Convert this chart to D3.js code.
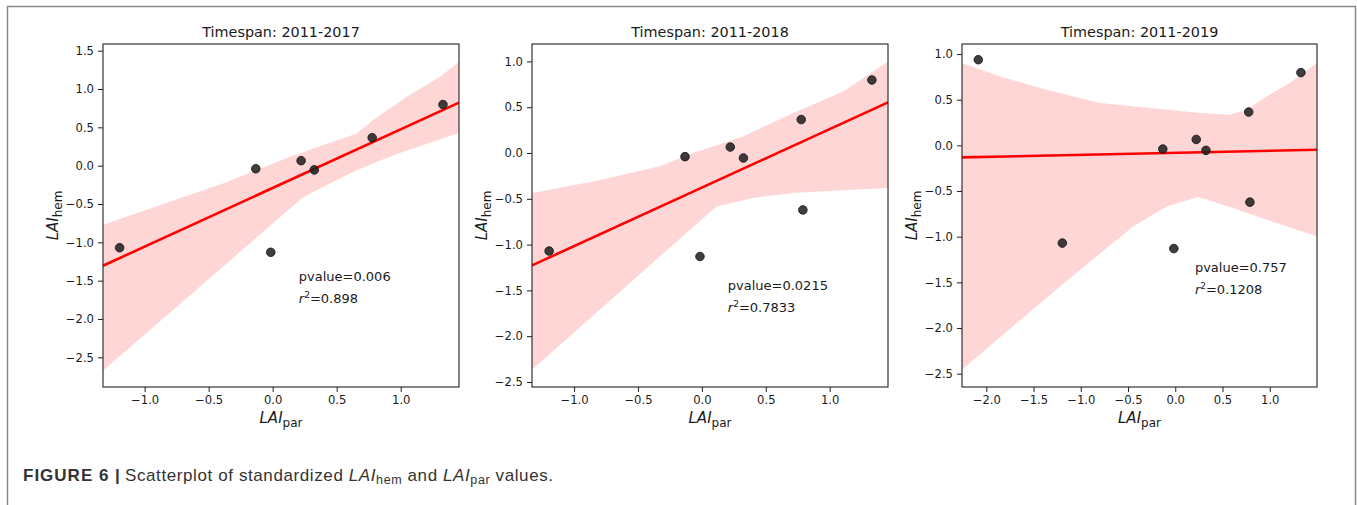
<!DOCTYPE html>
<html>
<head>
<meta charset="utf-8">
<script src="https://cdn.jsdelivr.net/npm/d3@7/dist/d3.min.js"></script>
<style>
body { margin: 0; background: #fff; }
svg text { font-family: "DejaVu Sans", sans-serif; fill: #1a1a1a; }
.cap text { font-family: "Liberation Sans", Arial, sans-serif; fill: #333; }
</style>
</head>
<body>
<script>
// panel titles and stats text
var titles = ["Timespan: 2011-2017", "Timespan: 2011-2018", "Timespan: 2011-2019"];
var pvalues = ["0.006", "0.0215", "0.757"];
var r2values = ["0.898", "0.7833", "0.1208"];

// standardized LAI values [LAI_par, LAI_hem]
var pts2017 = [[-1.195, -1.07], [-0.132, -0.04], [-0.015, -1.13], [0.222, 0.065], [0.325, -0.055], [0.777, 0.365], [1.33, 0.797]];
var pts2018 = [[-1.195, -1.07], [-0.132, -0.04], [-0.015, -1.13], [0.222, 0.065], [0.325, -0.055], [0.777, 0.365], [0.79, -0.622], [1.33, 0.797]];
var pts2019 = [[-2.085, 0.938], [-1.195, -1.07], [-0.132, -0.04], [-0.015, -1.13], [0.222, 0.065], [0.325, -0.055], [0.777, 0.365], [0.79, -0.622], [1.33, 0.797]];

// fitted regression line, read at the axis edges
var fit2017 = [[-1.325, -1.305], [1.455, 0.822]];
var fit2018 = [[-1.329, -1.227], [1.456, 0.552]];
var fit2019 = [[-2.257, -0.132], [1.5, -0.048]];

// confidence band edges (bootstrap)
var hi2017 = [[-1.325, -0.77], [-0.384, -0.23], [-0.123, -0.056], [0.137, 0.117], [0.396, 0.27], [0.657, 0.42], [0.784, 0.596], [1.047, 0.9], [1.307, 1.16], [1.455, 1.357]];
var lo2017 = [[-1.325, -2.675], [0.228, -0.426], [0.345, -0.317], [0.63, -0.079], [0.813, 0.05], [1.0, 0.17], [1.176, 0.27], [1.455, 0.43]];
var hi2018 = [[-1.329, -0.437], [-0.851, -0.31], [-0.329, -0.146], [-0.069, 0.0], [0.322, 0.181], [0.714, 0.437], [1.105, 0.672], [1.456, 1.0]];
var lo2018 = [[-1.329, -2.366], [0.114, -0.583], [0.401, -0.491], [0.714, -0.437], [1.105, -0.408], [1.456, -0.382]];
var hi2019 = [[-2.257, 0.901], [-1.855, 0.755], [-1.361, 0.609], [-0.798, 0.463], [-0.269, 0.409], [0.26, 0.354], [0.577, 0.335], [0.754, 0.39], [0.965, 0.536], [1.212, 0.682], [1.5, 0.901]];
var lo2019 = [[-2.257, -2.457], [-1.221, -1.545], [-0.445, -0.888], [-0.092, -0.669], [0.242, -0.566], [0.612, -0.686], [0.965, -0.814], [1.5, -0.997]];

// tick labels
var xTicksA = [-1.0, -0.5, 0.0, 0.5, 1.0];
var xTicksB = [-2.0, -1.5, -1.0, -0.5, 0.0, 0.5, 1.0];
var yTicksA = [1.5, 1.0, 0.5, 0.0, -0.5, -1.0, -1.5, -2.0, -2.5];
var yTicksB = [1.0, 0.5, 0.0, -0.5, -1.0, -1.5, -2.0, -2.5];

var W = 1357, H = 505;
var svg = d3.select("body").append("svg")
	.attr("width", W)
	.attr("height", H);

// figure frame (left, top, right)
svg.append("path")
	.attr("d", "M 7.5 505 L 7.5 6.5 L 1355.5 6.5 L 1355.5 505")
	.attr("fill", "none")
	.attr("stroke", "#8a8a8a")
	.attr("stroke-width", 1.5);

var panels = [
	{left: 103, right: 459, xdom: [-1.325, 1.455], ydom: [-2.887, 1.587], xt: xTicksA, yt: yTicksA,
		pts: pts2017, fit: fit2017, hi: hi2017, lo: lo2017, tx: 0.55, ty: 0.69},
	{left: 532, right: 888, xdom: [-1.329, 1.456], ydom: [-2.555, 1.19], xt: xTicksA, yt: yTicksB,
		pts: pts2018, fit: fit2018, hi: hi2018, lo: lo2018, tx: 0.55, ty: 0.716},
	{left: 962, right: 1317, xdom: [-2.257, 1.5], ydom: [-2.646, 1.11], xt: xTicksB, yt: yTicksB,
		pts: pts2019, fit: fit2019, hi: hi2019, lo: lo2019, tx: 0.656, ty: 0.664}
];
var plotTop = 44, plotBottom = 387;
var fmt = d3.format(".1f");

panels.forEach(function (p, i) {
	var x = d3.scaleLinear().domain(p.xdom).range([p.left, p.right]);
	var y = d3.scaleLinear().domain(p.ydom).range([plotBottom, plotTop]);
	var g = svg.append("g");

	g.append("defs").append("clipPath")
		.attr("id", "clip" + i)
		.append("rect")
		.attr("x", p.left).attr("y", plotTop)
		.attr("width", p.right - p.left).attr("height", plotBottom - plotTop);

	var line = d3.line().x(function (d) { return x(d[0]); }).y(function (d) { return y(d[1]); });
	var plot = g.append("g").attr("clip-path", "url(#clip" + i + ")");

	// band: upper edge forward, lower edge back
	plot.append("path")
		.attr("d", line(p.hi.concat(p.lo.slice().reverse())) + "Z")
		.attr("fill", "#ff0000")
		.attr("fill-opacity", 0.16);

	plot.append("path")
		.attr("d", line(p.fit))
		.attr("fill", "none")
		.attr("stroke", "#ff0000")
		.attr("stroke-width", 2.6);

	plot.selectAll("circle")
		.data(p.pts)
		.enter().append("circle")
		.attr("cx", function (d) { return x(d[0]); })
		.attr("cy", function (d) { return y(d[1]); })
		.attr("r", 4.3)
		.attr("fill", "#1c1c1c")
		.attr("fill-opacity", 0.85)
		.attr("stroke", "#111")
		.attr("stroke-width", 0.8);

	// axes
	var xa = g.append("g")
		.attr("transform", "translate(0," + plotBottom + ")")
		.call(d3.axisBottom(x).tickValues(p.xt).tickFormat(fmt).tickSize(5).tickPadding(4));
	var ya = g.append("g")
		.attr("transform", "translate(" + p.left + ",0)")
		.call(d3.axisLeft(y).tickValues(p.yt).tickFormat(fmt).tickSize(5).tickPadding(4));
	[xa, ya].forEach(function (a) {
		a.select(".domain").remove();
		a.selectAll("text").attr("font-size", "11.6px").attr("font-family", "DejaVu Sans").attr("fill", "#1a1a1a");
		a.selectAll("line").attr("stroke", "#222");
	});

	g.append("rect")
		.attr("x", p.left).attr("y", plotTop)
		.attr("width", p.right - p.left).attr("height", plotBottom - plotTop)
		.attr("fill", "none")
		.attr("stroke", "#222")
		.attr("stroke-width", 1.1);

	var cx = (p.left + p.right) / 2;
	g.append("text")
		.attr("x", cx).attr("y", 37)
		.attr("text-anchor", "middle")
		.attr("font-size", "14.4px")
		.text(titles[i]);

	var xl = g.append("text")
		.attr("x", cx).attr("y", 423)
		.attr("text-anchor", "middle")
		.attr("font-size", "15px");
	xl.append("tspan").attr("font-style", "italic").text("LAI");
	xl.append("tspan").attr("font-size", "12px").attr("dy", 3.5).text("par");

	var yl = g.append("text")
		.attr("transform", "translate(" + (p.left - 45) + "," + ((plotTop + plotBottom) / 2) + ") rotate(-90)")
		.attr("text-anchor", "middle")
		.attr("font-size", "15px");
	yl.append("tspan").attr("font-style", "italic").text("LAI");
	yl.append("tspan").attr("font-size", "12px").attr("dy", 3.5).text("hem");

	var tx = p.left + p.tx * (p.right - p.left);
	var ty = plotTop + p.ty * (plotBottom - plotTop);
	g.append("text")
		.attr("x", tx).attr("y", ty)
		.attr("font-size", "13px")
		.text("pvalue=" + pvalues[i]);
	var rt = g.append("text")
		.attr("x", tx).attr("y", ty + 22)
		.attr("font-size", "13px");
	rt.append("tspan").attr("font-style", "italic").text("r");
	rt.append("tspan").attr("font-size", "9px").attr("dy", -5).text("2");
	rt.append("tspan").attr("dy", 5).text("=" + r2values[i]);
});

// caption
var cap = svg.append("g").attr("class", "cap");
cap.append("text")
	.attr("x", 23).attr("y", 481)
	.attr("font-size", "17px")
	.attr("font-weight", "bold")
	.attr("letter-spacing", "1px")
	.text("FIGURE 6 |");
var ct = cap.append("text")
	.attr("x", 125).attr("y", 481)
	.attr("font-size", "17px")
	.attr("letter-spacing", "0.6px");
ct.append("tspan").text("Scatterplot of standardized ");
ct.append("tspan").attr("font-style", "italic").text("LAI");
ct.append("tspan").attr("font-size", "12.5px").attr("dy", 3).text("hem");
ct.append("tspan").attr("dy", -3).text(" and ");
ct.append("tspan").attr("font-style", "italic").text("LAI");
ct.append("tspan").attr("font-size", "12.5px").attr("dy", 3).text("par");
ct.append("tspan").attr("dy", -3).text(" values.");
</script>
</body>
</html>
